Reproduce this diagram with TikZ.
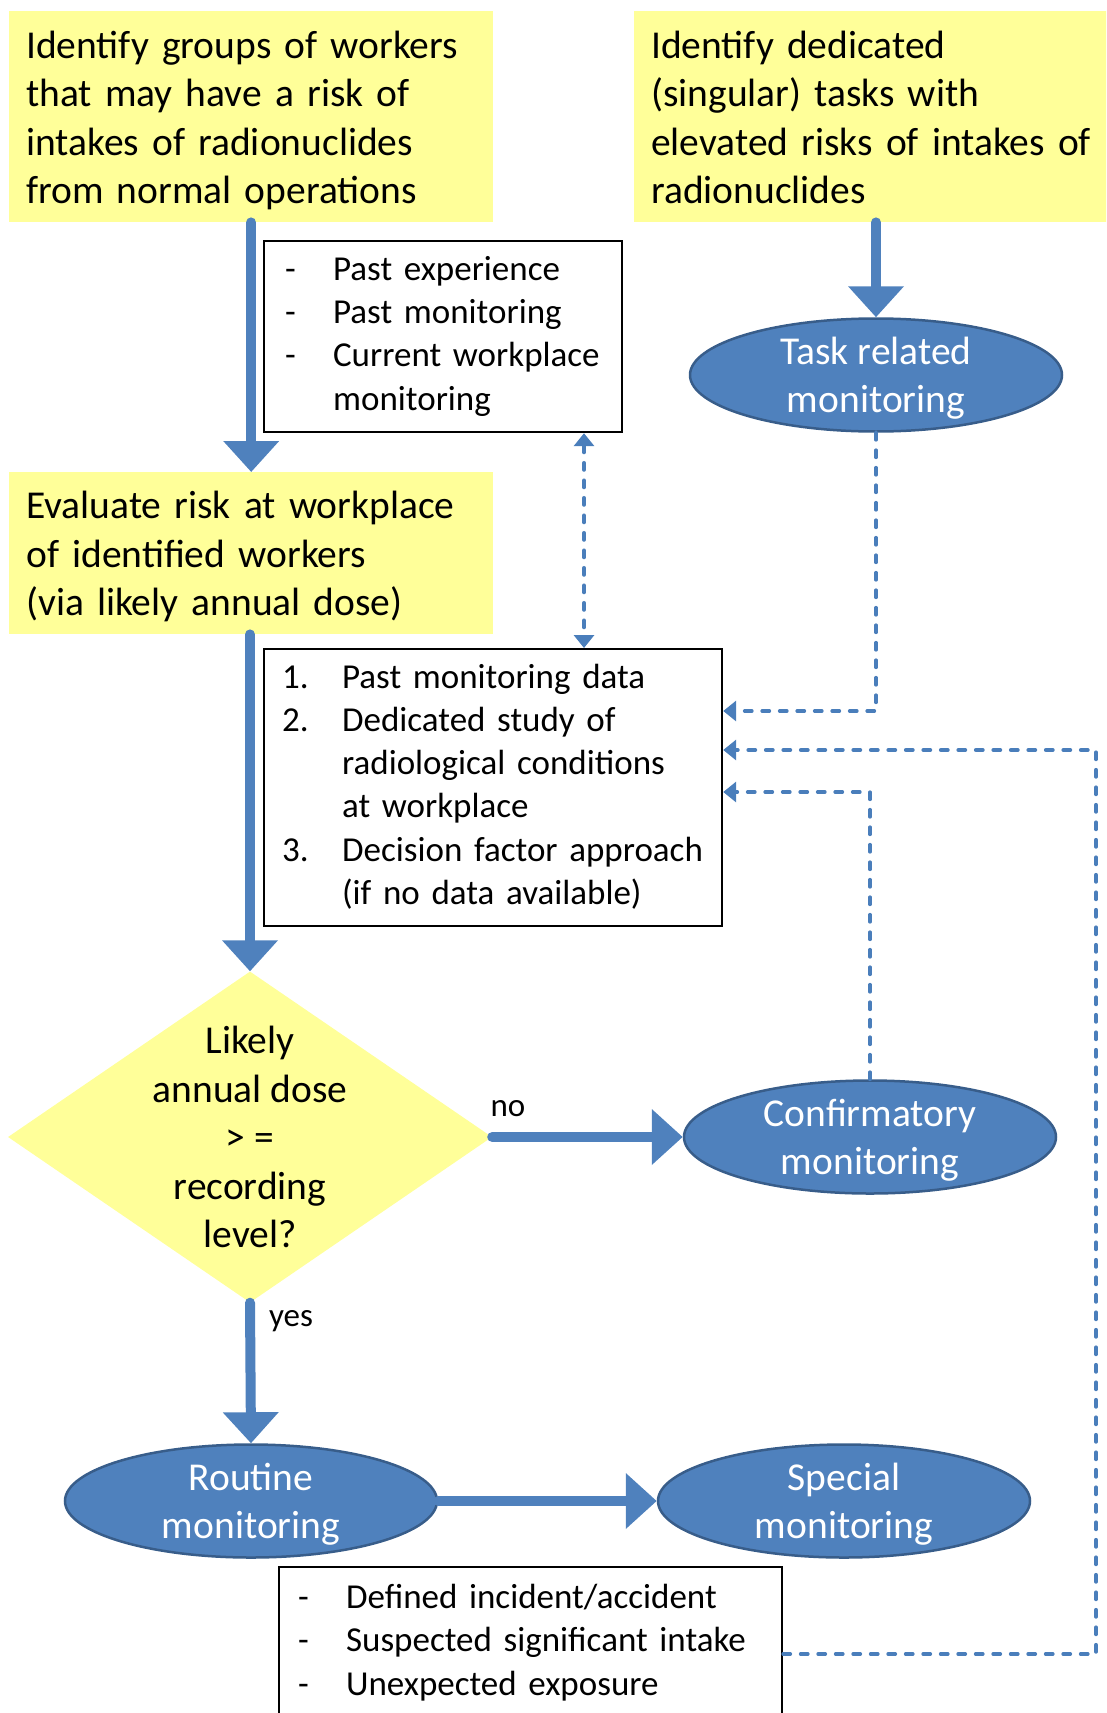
\documentclass[tikz,border=0pt]{standalone}
\usepackage{fontspec}
\setmainfont{Carlito}
\usetikzlibrary{arrows.meta,shapes.geometric}
\definecolor{noteyellow}{HTML}{FFFF99}
\definecolor{flowblue}{HTML}{4F81BD}
\definecolor{ovalrim}{HTML}{385D8A}
\definecolor{linkblue}{HTML}{4A7EBB}
\tikzset{linktip/.tip={Triangle[width=20pt,length=13pt]}}
% a tall strut that opens the first line of a note, lowering the text block a little
\newcommand{\firststrut}{\rule{0pt}{43pt}}

\begin{document}
\begin{tikzpicture}[x=1pt,y=-1pt,
  stepnote/.style={rectangle, fill=noteyellow, anchor=north west, inner xsep=17pt, inner ysep=0pt,
    align=left, font=\fontsize{39.5}{48.5}\selectfont},
  listbox/.style={rectangle, draw=black, line width=2.2pt, fill=white, anchor=north west,
    inner ysep=0pt, align=left, font=\fontsize{35}{43.3}\selectfont},
  decision/.style={diamond, fill=noteyellow, minimum width=484pt, minimum height=331pt, inner sep=0pt},
  dectext/.style={align=center, font=\fontsize{39.5}{48.5}\selectfont},
  oval/.style={ellipse, fill=flowblue, draw=ovalrim, line width=2.5pt,
    minimum width=372pt, minimum height=113pt, inner sep=0pt},
  ovaltext/.style={text=white, align=center, yshift=-3pt, font=\fontsize{39.5}{48.5}\selectfont},
  edgelabel/.style={font=\fontsize{33}{40}\selectfont},
  fat/.style={draw=flowblue, line width=10pt, line cap=round,
    -{Triangle[width=54pt,length=31pt]}},
  link/.style={draw=linkblue, line width=3.8pt, line cap=round, line join=round,
    dash pattern=on 7pt off 10.5pt, -linktip},
]
\clip (0,0) rectangle (1106,1713);

% yellow task statements
\node[stepnote, minimum width=484pt, minimum height=211pt, text width=450pt] (groups) at (9,11)
  {\firststrut Identify groups of workers\\that may have a risk of\\intakes of radionuclides\\from normal operations\strut};
\node[stepnote, minimum width=484pt, minimum height=211pt, text width=450pt] (tasks) at (634,11)
  {\firststrut Identify dedicated\\(singular) tasks with\\elevated risks of intakes of\\radionuclides\strut};
\node[stepnote, minimum width=484pt, minimum height=162pt, text width=450pt] (evaluate) at (9,472)
  {\firststrut Evaluate risk at workplace\\of identified workers\\(via likely annual dose)\strut};

% framed lists
\node[listbox, minimum width=358pt, minimum height=191pt, inner xsep=21pt, text width=316pt] (sources) at (263,240)
  {\begin{tabular}{@{}p{48pt}@{}l@{}}
   - & Past experience\\
   - & Past monitoring\\
   - & Current workplace\\
     & monitoring
   \end{tabular}};
\node[listbox, minimum width=458pt, minimum height=277pt, inner xsep=18pt, text width=422pt] (methods) at (263,648)
  {\begin{tabular}{@{}p{60pt}@{}l@{}}
   1. & Past monitoring data\\
   2. & Dedicated study of\\
      & radiological conditions\\
      & at workplace\\
   3. & Decision factor approach\\
      & (if no data available)
   \end{tabular}};
\node[listbox, minimum width=503pt, minimum height=152pt, inner xsep=19pt, text width=465pt] (triggers) at (278,1566)
  {\begin{tabular}{@{}p{48pt}@{}l@{}}
   - & Defined incident/accident\\
   - & Suspected significant intake\\
   - & Unexpected exposure
   \end{tabular}};

% decision
\node[decision] (dec) at (250,1137) {};
\node[dectext] at (dec) {Likely\\annual dose\\> =\\recording\\level?};

% monitoring types
\node[oval] (task) at (876,375) {};
\node[ovaltext] at (task) {Task related\\monitoring};
\node[oval] (confirm) at (870,1137) {};
\node[ovaltext] at (confirm) {Confirmatory\\monitoring};
\node[oval] (routine) at (251,1501) {};
\node[ovaltext] at (routine) {Routine\\monitoring};
\node[oval] (special) at (844,1501) {};
\node[ovaltext] at (special) {Special\\monitoring};

% main flow
\draw[fat] (groups.south) -- (evaluate.north);
\draw[fat] (task.north |- tasks.south) -- (task.north);
\draw[fat] (dec.north |- evaluate.south) -- (dec.north);
\draw[fat] (dec.east) -- (confirm.west);
\draw[fat] (dec.south) -- (routine.north);
\draw[fat] (routine.east) -- (special.west);
\node[edgelabel] at (508,1109) {no};
\node[edgelabel] at (291,1321) {yes};

% feedback links into the method list
\coordinate (dbl) at (584,0);
\coordinate (rim) at (1096,1654);
\draw[link, linktip-linktip] (sources.south -| dbl) -- (methods.north -| dbl);
\draw[link] (task.south) |- (methods.east |- 0,711);
\draw[link] (triggers.east |- rim) -- (rim) |- (methods.east |- 0,750);
\draw[link] (confirm.north) |- (methods.east |- 0,792);
\end{tikzpicture}
\end{document}
